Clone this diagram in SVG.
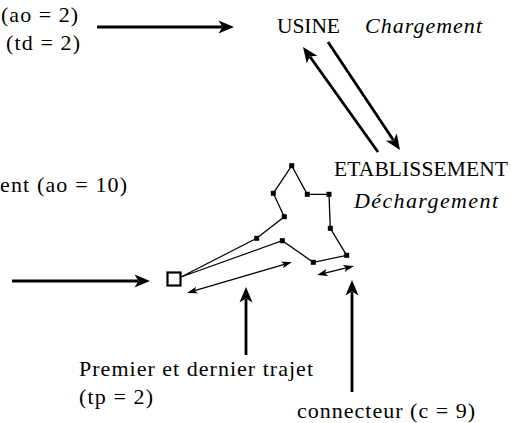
<svg xmlns="http://www.w3.org/2000/svg" width="511" height="423" viewBox="0 0 511 423">
<style>
text{font-family:"Liberation Serif","Times New Roman",serif;font-size:22px;fill:#000}
.it{font-style:italic}
.big{stroke:#000;stroke-width:2.8;fill:none}
.thin{stroke:#000;stroke-width:1.3;fill:none}
.route{stroke:#000;stroke-width:1.3;fill:none}
.pt{fill:#000}
</style>
<defs>
<marker id="ah" markerUnits="userSpaceOnUse" viewBox="-4 -7 17 14" refX="0" refY="0" markerWidth="17" markerHeight="14" orient="auto">
<path d="M-3.5,-6.5 L12,0 L-3.5,6.5 L0.5,0 Z" fill="#000"/>
</marker>
<marker id="sh" markerUnits="userSpaceOnUse" viewBox="-3 -4 12 8" refX="0" refY="0" markerWidth="12" markerHeight="8" orient="auto-start-reverse">
<path d="M-2.5,-3.5 L8,0 L-2.5,3.5 L0,0 Z" fill="#000"/>
</marker>
</defs>
<rect width="511" height="423" fill="#fff"/>

<g id="labels">
<text x="1" y="22" textLength="77">(ao = 2)</text>
<text x="6" y="50" textLength="74">(td = 2)</text>
<text x="0" y="192" textLength="127">ent (ao = 10)</text>
<text x="79" y="376" textLength="234">Premier et dernier trajet</text>
<text x="79" y="404" textLength="74">(tp = 2)</text>
<text x="297" y="418" textLength="178">connecteur (c = 9)</text>
</g>

<g id="usine">
<text x="277" y="33" style="font-size:21.5px" textLength="63">USINE</text>
<text class="it" x="365" y="33" textLength="117">Chargement</text>
</g>

<g id="etablissement">
<text x="334" y="176" style="font-size:21.5px" textLength="174">ETABLISSEMENT</text>
<text class="it" x="354" y="208" textLength="144">Déchargement</text>
</g>

<g id="connectors">
<line class="big" x1="97" y1="27" x2="222" y2="27" marker-end="url(#ah)"/>
<line class="big" x1="12" y1="281" x2="138" y2="281" marker-end="url(#ah)"/>
<line class="big" x1="378" y1="152" x2="310" y2="56.8" marker-end="url(#ah)"/>
<line class="big" x1="328" y1="42" x2="393.3" y2="140" marker-end="url(#ah)"/>
<line class="big" x1="246" y1="355" x2="246" y2="299" marker-end="url(#ah)"/>
<line class="big" x1="352" y1="392" x2="352" y2="292" marker-end="url(#ah)"/>
<line class="thin" x1="194.7" y1="290.7" x2="284.3" y2="264.3" marker-start="url(#sh)" marker-end="url(#sh)"/>
<line class="thin" x1="324.8" y1="273.1" x2="346.2" y2="267.9" marker-start="url(#sh)" marker-end="url(#sh)"/>
<polyline class="route" points="181,277 256.7,238.3 284.3,216.7 273.3,193.3 291.7,165.7 307.3,194.3 329,194.3 330.3,228.3 346.7,255.3 313.3,262.3 282.3,240.7 181,277"/>
</g>

<g id="depot">
<rect x="167.5" y="272.5" width="13" height="13" fill="#fff" stroke="#000" stroke-width="2.2"/>
</g>

<g id="route-nodes">
<g id="n1"><rect class="pt" x="254.2" y="235.8" width="5" height="5"/></g>
<g id="n2"><rect class="pt" x="281.8" y="214.2" width="5" height="5"/></g>
<g id="n3"><rect class="pt" x="270.8" y="190.8" width="5" height="5"/></g>
<g id="n4"><rect class="pt" x="289.2" y="163.2" width="5" height="5"/></g>
<g id="n5"><rect class="pt" x="304.8" y="191.8" width="5" height="5"/></g>
<g id="n6"><rect class="pt" x="326.5" y="191.8" width="5" height="5"/></g>
<g id="n7"><rect class="pt" x="327.8" y="225.8" width="5" height="5"/></g>
<g id="n8"><rect class="pt" x="344.2" y="252.8" width="5" height="5"/></g>
<g id="n9"><rect class="pt" x="310.8" y="259.8" width="5" height="5"/></g>
<g id="n10"><rect class="pt" x="279.8" y="238.2" width="5" height="5"/></g>
</g>
</svg>
